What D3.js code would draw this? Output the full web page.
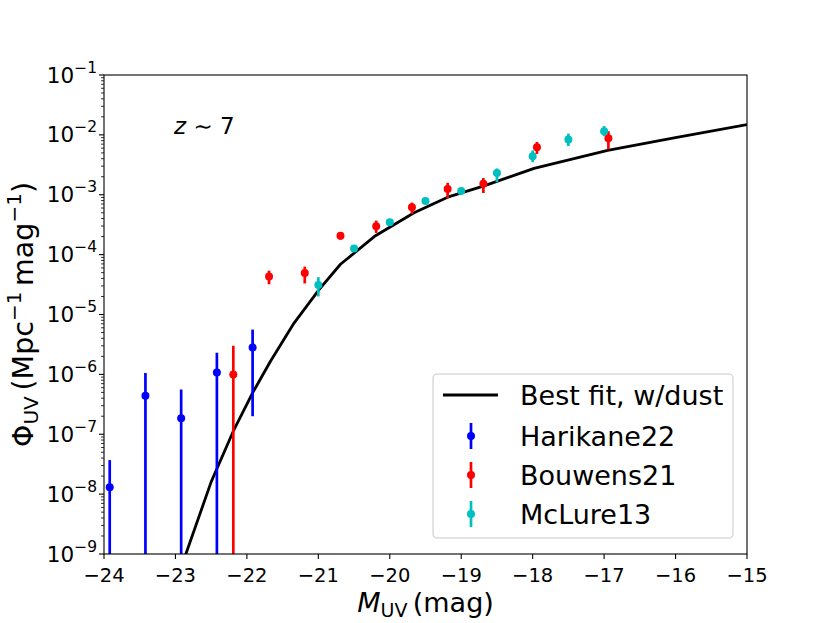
<!DOCTYPE html>
<html>
<head>
<meta charset="utf-8">
<script src="https://d3js.org/d3.v7.min.js"></script>
<style>
body { margin: 0; background: #fff; }
text { font-family: "DejaVu Sans", sans-serif; fill: #000; }
</style>
</head>
<body>
<svg id="chart" width="830" height="623"></svg>
<script>
// best fit model curve
var fitM   = [-23.0, -22.5, -22.18, -21.92, -21.67, -21.34, -20.99, -20.69, -20.2, -19.66, -19.19, -18.68, -17.98, -16.95, -16.02, -15.0]
var fitPhi = [3.2e-10, 1.6e-8, 1.2e-7, 4.9e-7, 1.66e-6, 7.2e-6, 2.6e-5, 6.9e-5, 2.07e-4, 5.0e-4, 9.1e-4, 1.41e-3, 2.75e-3, 5.5e-3, 8.9e-3, 1.48e-2]

// Harikane22
var hariM   = [-23.92, -23.42, -22.92, -22.42, -21.92]
var hariPhi = [1.3e-8, 4.4e-7, 1.85e-7, 1.07e-6, 2.8e-6]
var hariUp  = [3.7e-8, 1.05e-6, 5.6e-7, 2.3e-6, 5.6e-6]
var hariLo  = [1e-11, 1e-11, 1e-11, 1e-11, 2.0e-7]

// Bouwens21
var bouM   = [-22.19, -21.69, -21.19, -20.69, -20.19, -19.69, -19.19, -18.69, -17.94, -16.94]
var bouPhi = [1.0e-6, 4.3e-5, 4.95e-5, 2.07e-4, 2.97e-4, 6.2e-4, 1.25e-3, 1.53e-3, 6.2e-3, 8.8e-3]
var bouUp  = [3.0e-6, 5.4e-5, 6.3e-5, 2.3e-4, 3.7e-4, 7.4e-4, 1.58e-3, 1.9e-3, 7.6e-3, 1.15e-2]
var bouLo  = [1e-11, 3.2e-5, 3.3e-5, 1.78e-4, 2.3e-4, 4.8e-4, 8.7e-4, 1.07e-3, 4.8e-3, 5.75e-3]

// McLure13
var mclM   = [-21.0, -20.5, -20.0, -19.5, -19.0, -18.5, -18.0, -17.5, -17.0]
var mclPhi = [3.1e-5, 1.26e-4, 3.47e-4, 7.9e-4, 1.15e-3, 2.3e-3, 4.4e-3, 8.4e-3, 1.15e-2]
var mclUp  = [4.2e-5, 1.4e-4, 3.7e-4, 8.5e-4, 1.23e-3, 2.75e-3, 5.5e-3, 1.05e-2, 1.4e-2]
var mclLo  = [2.0e-5, 1.15e-4, 3.2e-4, 7.4e-4, 1.07e-3, 1.62e-3, 3.5e-3, 6.5e-3, 9.5e-3]

var xTicks = [-24, -23, -22, -21, -20, -19, -18, -17, -16, -15]
var yExps = [-9, -8, -7, -6, -5, -4, -3, -2, -1]
var legendLabels = ["Best fit, w/dust", "Harikane22", "Bouwens21", "McLure13"]

var svg = d3.select("#chart")
// plot box (note: "top" is a reserved window prop, so use p_*)
var p_left = 104, p_right = 747, p_top = 75, p_bottom = 554

var x = d3.scaleLinear().domain([-24, -15]).range([p_left, p_right])
var y = d3.scaleLog().domain([1e-9, 1e-1]).range([p_bottom, p_top])

svg.append("defs").append("clipPath").attr("id", "clip")
    .append("rect").attr("x", p_left).attr("y", p_top).attr("width", p_right - p_left).attr("height", p_bottom - p_top)

var plot = svg.append("g").attr("clip-path", "url(#clip)")

// model line
var fit = fitM.map((m, i) => [m, fitPhi[i]])
plot.append("path")
    .datum(fit)
    .attr("d", d3.line().x(d => x(d[0])).y(d => y(d[1])))
    .style("fill", "none")
    .style("stroke", "#000")
    .style("stroke-width", 2.8)
    .style("stroke-linejoin", "round")

function errSeries(M, phi, up, lo, color) {
    var pts = M.map((m, i) => ({m: m, v: phi[i], u: up[i], l: lo[i]}))
    plot.selectAll(null).data(pts).enter().append("line")
        .attr("x1", d => x(d.m)).attr("x2", d => x(d.m))
        .attr("y1", d => y(d.u)).attr("y2", d => y(d.l))
        .style("stroke", color).style("stroke-width", 2.7)
    plot.selectAll(null).data(pts).enter().append("circle")
        .attr("cx", d => x(d.m)).attr("cy", d => y(d.v)).attr("r", 4)
        .style("fill", color)
}
errSeries(hariM, hariPhi, hariUp, hariLo, "#0000ff")
errSeries(bouM, bouPhi, bouUp, bouLo, "#ff0000")
errSeries(mclM, mclPhi, mclUp, mclLo, "#00bfbf")

// axes frame
svg.append("rect").attr("x", p_left).attr("y", p_top).attr("width", p_right - p_left).attr("height", p_bottom - p_top)
    .style("fill", "none").style("stroke", "#000").style("stroke-width", 1.1)

// x ticks
var xg = svg.append("g")
xTicks.forEach(function(t) {
    xg.append("line").attr("x1", x(t)).attr("x2", x(t)).attr("y1", p_bottom).attr("y2", p_bottom + 5)
        .style("stroke", "#000").style("stroke-width", 1.1)
    xg.append("text").attr("x", x(t)).attr("y", p_bottom + 28).attr("text-anchor", "middle")
        .style("font-size", "19.5px").text("\u2212" + Math.abs(t))
})

// y ticks (log, with minor)
var yg = svg.append("g")
yExps.forEach(function(e) {
    var v = Math.pow(10, e)
    yg.append("line").attr("x1", p_left - 5).attr("x2", p_left).attr("y1", y(v)).attr("y2", y(v))
        .style("stroke", "#000").style("stroke-width", 1.1)
    var t = yg.append("text").attr("x", p_left - 7).attr("y", y(v) + 7.5).attr("text-anchor", "end")
        .style("font-size", "21.5px")
    t.append("tspan").text("10")
    t.append("tspan").attr("dy", -10).style("font-size", "15.5px").text("\u2212" + Math.abs(e))
    if (e < -1) {
        for (var k = 2; k < 10; k++) {
            var mv = k * v
            yg.append("line").attr("x1", p_left - 3).attr("x2", p_left).attr("y1", y(mv)).attr("y2", y(mv))
                .style("stroke", "#000").style("stroke-width", 0.8)
        }
    }
})

// axis labels
var xl = svg.append("text").attr("x", (p_left + p_right) / 2).attr("y", 612).attr("text-anchor", "middle")
    .style("font-size", "27px")
xl.append("tspan").style("font-style", "italic").text("M")
xl.append("tspan").attr("dy", 5).style("font-size", "19px").text("UV")
xl.append("tspan").attr("dy", -5).text("\u2009(mag)")

var yl = svg.append("text").attr("transform", "translate(33," + ((p_top + p_bottom) / 2) + ") rotate(-90)")
    .attr("text-anchor", "middle").style("font-size", "28.5px")
yl.append("tspan").text("\u03A6")
yl.append("tspan").attr("dy", 5).style("font-size", "20px").text("UV")
yl.append("tspan").attr("dy", -5).text("\u2009(Mpc")
yl.append("tspan").attr("dy", -12).style("font-size", "20px").text("\u22121")
yl.append("tspan").attr("dy", 12).text("\u2009mag")
yl.append("tspan").attr("dy", -12).style("font-size", "20px").text("\u22121")
yl.append("tspan").attr("dy", 12).text(")")

// redshift label
var zt = svg.append("text").attr("x", 174).attr("y", 134).style("font-size", "23px")
zt.append("tspan").style("font-style", "italic").text("z")
zt.append("tspan").text(" \u223C 7")

// legend
var lg = svg.append("g")
lg.append("rect").attr("x", 433).attr("y", 374).attr("width", 300).attr("height", 164)
    .attr("rx", 4).style("fill", "#fff").style("fill-opacity", 0.8)
    .style("stroke", "#cccccc").style("stroke-width", 1.1)
var rowY = [395, 436, 475, 514]
var legColors = ["#000", "#0000ff", "#ff0000", "#00bfbf"]
legendLabels.forEach(function(lab, i) {
    if (i == 0) {
        lg.append("line").attr("x1", 443).attr("x2", 498).attr("y1", rowY[i]).attr("y2", rowY[i])
            .style("stroke", "#000").style("stroke-width", 2.8)
    } else {
        lg.append("line").attr("x1", 471).attr("x2", 471).attr("y1", rowY[i] - 13).attr("y2", rowY[i] + 13)
            .style("stroke", legColors[i]).style("stroke-width", 2.7)
        lg.append("circle").attr("cx", 471).attr("cy", rowY[i]).attr("r", 4).style("fill", legColors[i])
    }
    lg.append("text").attr("x", 520).attr("y", rowY[i] + 9.5).style("font-size", "27px").text(lab)
})
</script>
</body>
</html>
